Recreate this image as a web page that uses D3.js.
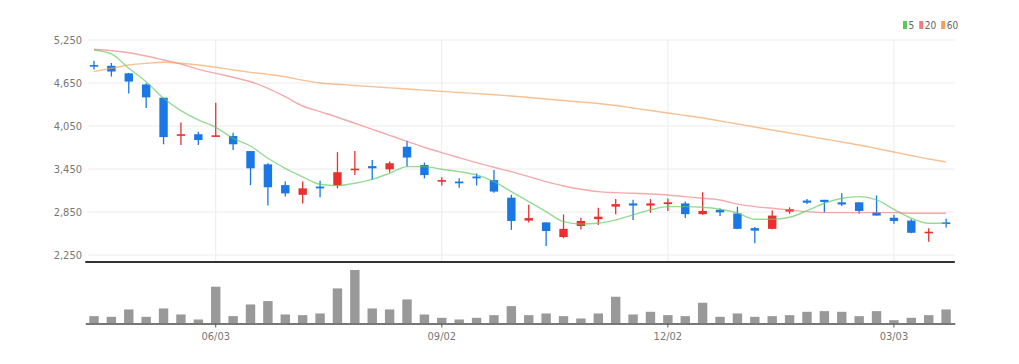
<!DOCTYPE html>
<html>
<head>
<meta charset="utf-8">
<script src="https://cdn.jsdelivr.net/npm/d3@7"></script>
<style>
body { margin: 0; background: #fff; }
svg text { font-family: "DejaVu Sans Condensed", "DejaVu Sans", sans-serif; font-stretch: condensed; }
</style>
</head>
<body>
<div id="chart"></div>
<script>
"use strict";

// weekly candles, Korean colours: red = up, blue = down
var dates = ["2024-04-15", "2024-04-22", "2024-04-29", "2024-05-06", "2024-05-13", "2024-05-20", "2024-05-27",
    "2024-06-03", "2024-06-10", "2024-06-17", "2024-06-24", "2024-07-01", "2024-07-08", "2024-07-15",
    "2024-07-22", "2024-07-29", "2024-08-05", "2024-08-12", "2024-08-19", "2024-08-26", "2024-09-02",
    "2024-09-09", "2024-09-16", "2024-09-23", "2024-09-30", "2024-10-07", "2024-10-14", "2024-10-21",
    "2024-10-28", "2024-11-04", "2024-11-11", "2024-11-18", "2024-11-25", "2024-12-02", "2024-12-09",
    "2024-12-16", "2024-12-23", "2024-12-30", "2025-01-06", "2025-01-13", "2025-01-20", "2025-01-27",
    "2025-02-03", "2025-02-10", "2025-02-17", "2025-02-24", "2025-03-03", "2025-03-10", "2025-03-17",
    "2025-03-24"];
var tickDates = ["2024-06-03", "2024-09-02", "2024-12-02", "2025-03-03"];
var priceTicks = [2250, 2850, 3450, 4050, 4650, 5250];

var open = [4900, 4890, 4785, 4630, 4445, 3915, 3935, 3900, 3910, 3700, 3515, 3225, 3090, 3205, 3220, 3435,
    3490, 3445, 3760, 3505, 3275, 3275, 3345, 3295, 3050, 2730, 2705, 2500, 2655, 2750, 2925, 2970, 2940,
    2960, 2970, 2820, 2880, 2830, 2625, 2615, 2855, 3010, 3020, 2985, 2985, 2845, 2770, 2730, 2555, 2705];
var high = [4960, 4930, 4790, 4645, 4445, 4100, 3970, 4375, 3955, 3700, 3530, 3275, 3275, 3285, 3685, 3700,
    3575, 3555, 3845, 3540, 3335, 3320, 3390, 3435, 3090, 2950, 2705, 2815, 2770, 2910, 3030, 3020, 3030,
    3040, 2995, 3125, 2900, 2925, 2640, 2870, 2915, 3030, 3020, 3110, 2985, 3080, 2810, 2750, 2625, 2755];
var low = [4840, 4740, 4505, 4300, 3795, 3785, 3785, 3895, 3715, 3225, 2940, 3065, 2970, 3055, 3180, 3365,
    3295, 3400, 3490, 3320, 3220, 3190, 3220, 3120, 2600, 2705, 2375, 2485, 2605, 2670, 2820, 2740, 2840,
    2865, 2765, 2810, 2795, 2610, 2415, 2610, 2825, 2960, 2840, 2935, 2825, 2800, 2685, 2555, 2435, 2635];
var close = [4880, 4810, 4670, 4450, 3895, 3935, 3855, 3920, 3795, 3460, 3195, 3110, 3180, 3180, 3405, 3455,
    3460, 3530, 3610, 3365, 3295, 3250, 3320, 3135, 2725, 2765, 2585, 2615, 2725, 2785, 2960, 2940, 2970,
    2985, 2820, 2865, 2845, 2615, 2590, 2800, 2890, 2980, 2990, 2955, 2865, 2800, 2725, 2560, 2575, 2685];
var volume = [220000, 200000, 420000, 200000, 450000, 270000, 120000, 1100000, 220000, 570000, 670000,
    270000, 250000, 300000, 1050000, 1600000, 450000, 420000, 720000, 270000, 170000, 120000, 170000,
    250000, 520000, 250000, 300000, 220000, 150000, 300000, 800000, 270000, 350000, 250000, 220000,
    620000, 200000, 300000, 200000, 220000, 250000, 350000, 370000, 350000, 220000, 370000, 100000,
    170000, 250000, 420000];

var ma5 = [5110, 5055, 4855, 4668, 4437, 4264, 4134, 4032, 3879, 3771, 3600, 3460, 3340, 3237, 3218, 3251,
    3306, 3390, 3483, 3483, 3446, 3413, 3367, 3274, 3134, 2995, 2855, 2716, 2683, 2693, 2739, 2809, 2879,
    2925, 2925, 2916, 2888, 2836, 2749, 2749, 2776, 2869, 2972, 3041, 3064, 3018, 2888, 2763, 2693, 2693];
var ma20 = [5120, 5101, 5073, 5027, 4971, 4915, 4841, 4785, 4730, 4668, 4576, 4459, 4329, 4250, 4172, 4088,
    4004, 3920, 3836, 3753, 3678, 3608, 3538, 3474, 3413, 3343, 3274, 3213, 3167, 3134, 3120, 3111, 3102,
    3088, 3064, 3041, 3018, 2960, 2925, 2902, 2879, 2855, 2841, 2841, 2841, 2841, 2841, 2832, 2832, 2832];
var ma60 = [4808, 4855, 4901, 4925, 4939, 4925, 4901, 4869, 4831, 4799, 4771, 4738, 4690, 4650, 4632, 4615,
    4599, 4582, 4566, 4550, 4533, 4517, 4502, 4487, 4469, 4448, 4427, 4406, 4385, 4364, 4336, 4301, 4266,
    4232, 4197, 4162, 4120, 4078, 4036, 3995, 3953, 3911, 3869, 3827, 3785, 3736, 3688, 3639, 3590, 3548];

var maLines = [
    { name: "5", values: ma5, color: "#5cc85c" },
    { name: "20", values: ma20, color: "#f07c80" },
    { name: "60", values: ma60, color: "#f5a05a" }
];
var upColor = "#e8302f", downColor = "#1a78e6";

var width = 1019, height = 364;
var left = 85.3, right = 954.8;
var priceTop = 40, priceBottom = 255, axisY = 262;
var volTop = 270, volBottom = 323.5;

var svg = d3.select("#chart").append("svg")
    .attr("width", width)
    .attr("height", height)
    .style("display", "block");

var x = d3.scaleBand()
    .domain(dates)
    .range([left, right]);
var cx = function (d) { return x(d) + x.bandwidth() / 2; };
var y = d3.scaleLinear()
    .domain([2250, 5250])
    .range([priceBottom, priceTop]);
var yVol = d3.scaleLinear()
    .domain([0, d3.max(volume)])
    .range([volBottom, volTop]);

// gridlines
svg.append("g").selectAll("line")
  .data(priceTicks)
  .enter().append("line")
    .attr("x1", 88).attr("x2", right)
    .attr("y1", function (d) { return y(d); })
    .attr("y2", function (d) { return y(d); })
    .attr("stroke", "#ececec");
svg.append("g").selectAll("line")
  .data(tickDates)
  .enter().append("line")
    .attr("x1", cx).attr("x2", cx)
    .attr("y1", priceTop).attr("y2", axisY)
    .attr("stroke", "#ececec");

var yAxis = d3.axisLeft(y)
    .tickValues(priceTicks)
    .tickFormat(d3.format(","))
    .tickSize(0)
    .tickPadding(2);
svg.append("g")
    .attr("transform", "translate(" + 84 + ",0)")
    .call(yAxis)
    .call(function (g) { g.select(".domain").remove(); })
  .selectAll("text")
    .attr("fill", "#777")
    .style("font-size", "11px");

// candles
var candles = svg.append("g").selectAll("g")
  .data(dates)
  .enter().append("g");
candles.append("line")
    .attr("x1", cx).attr("x2", cx)
    .attr("y1", function (d, i) { return y(high[i]); })
    .attr("y2", function (d, i) { return y(low[i]); })
    .attr("stroke", function (d, i) { return close[i] >= open[i] ? upColor : downColor; })
    .attr("stroke-width", 1.3);
candles.append("rect")
    .attr("x", function (d) { return cx(d) - 4.2; })
    .attr("width", 8.4)
    .attr("y", function (d, i) { return y(Math.max(open[i], close[i])); })
    .attr("height", function (d, i) { return Math.max(1.6, Math.abs(y(open[i]) - y(close[i]))); })
    .attr("fill", function (d, i) { return close[i] >= open[i] ? upColor : downColor; });

// moving averages
var line = d3.line()
    .x(function (d, i) { return cx(dates[i]); })
    .y(function (d) { return y(d); })
    .curve(d3.curveMonotoneX);
svg.append("g").selectAll("path")
  .data(maLines)
  .enter().append("path")
    .attr("d", function (d) { return line(d.values); })
    .attr("fill", "none")
    .attr("stroke", function (d) { return d.color; })
    .attr("stroke-opacity", 0.65)
    .attr("stroke-width", 1.4);

// price / volume separator
svg.append("line")
    .attr("x1", left).attr("x2", right)
    .attr("y1", axisY).attr("y2", axisY)
    .attr("stroke", "#333")
    .attr("stroke-width", 2);

// volume
svg.append("g").selectAll("rect")
  .data(dates)
  .enter().append("rect")
    .attr("x", function (d) { return cx(d) - 4.7; })
    .attr("width", 9.4)
    .attr("y", function (d, i) { return yVol(volume[i]); })
    .attr("height", function (d, i) { return volBottom - yVol(volume[i]); })
    .attr("fill", "#999");

var xAxis = d3.axisBottom(x)
    .tickValues(tickDates)
    .tickFormat(function (d) { return d3.timeFormat("%m/%d")(d3.timeParse("%Y-%m-%d")(d)); })
    .tickSize(4)
    .tickSizeOuter(0)
    .tickPadding(5);
svg.append("g")
    .attr("transform", "translate(0," + volBottom + ")")
    .call(xAxis)
    .call(function (g) {
        g.select(".domain").attr("stroke", "#777").attr("stroke-width", 2);
        g.selectAll(".tick line").attr("stroke", "#555");
    })
  .selectAll("text")
    .attr("fill", "#777")
    .style("font-size", "11px");

// legend
var legend = svg.append("g")
    .attr("transform", "translate(903,21)");
var lx = 0;
maLines.forEach(function (d) {
    legend.append("rect")
        .attr("x", lx).attr("y", 0)
        .attr("width", 4).attr("height", 8)
        .attr("fill", d.color);
    var t = legend.append("text")
        .attr("x", lx + 5.5).attr("y", 8)
        .attr("fill", "#666")
        .style("font-size", "10px")
        .text(d.name);
    lx += 5.5 + t.node().getComputedTextLength() + 5;
});
</script>
</body>
</html>
